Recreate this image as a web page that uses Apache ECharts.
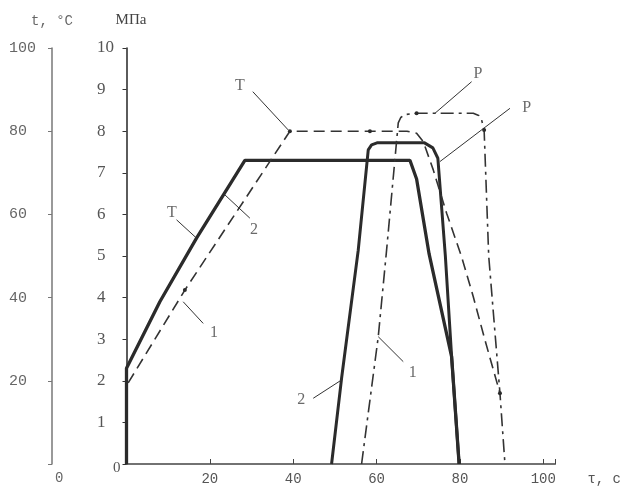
<!DOCTYPE html>
<html><head><meta charset="utf-8">
<script src="https://cdn.jsdelivr.net/npm/echarts@6/dist/echarts.min.js"></script>
<style>html,body{margin:0;padding:0;background:#fff}#c{width:624px;height:492px}</style>
</head><body><div id="c"></div>
<script>
// ---- Data (τ in s, pressure in МПа, temperature in °C) ----
const tauTicks = [0, 20, 40, 60, 80, 100];
const pressTicks = [0, 1, 2, 3, 4, 5, 6, 7, 8, 9, 10];
const tempTicks = [0, 20, 40, 60, 80, 100];

// Curve 2 (solid): temperature T
const temp2 = [[0,0],[0,23],[8,39],[16.8,54.3],[28.4,73],[68,73],[69.6,68.5],[72.6,50.5],[78,25.8],[79.8,0]];
// Curve 2 (solid): pressure P
const press2 = [[49.2,0],[51.6,2.06],[55.6,5.14],[58,7.55],[58.8,7.67],[60.1,7.72],[71.5,7.72],[73.5,7.6],[74.7,7.35],[76.5,5.0],[78,2.58],[79.8,0]];
// Curve 1 (dashed): temperature T
const temp1 = [[0.4,19.5],[14,41.8],[39.2,80],[58.4,80],[67.3,80],[69.6,79.5],[71.2,77.5],[73.6,70.7],[76.8,60.3],[80.4,49.8],[83.2,40.2],[86,29.8],[89.6,17]];
const temp1Dots = [1, 2, 3, 12];
// Curve 1 (dashed): pressure P
const press1 = [[56.4,0],[60.4,3.06],[62.4,5.14],[65.2,8.2],[65.8,8.33],[66.8,8.4],[69.6,8.43],[83.2,8.43],[84.5,8.38],[85.2,8.27],[85.8,8.03],[86.9,5.0],[89.6,1.7],[90.8,0]];
const press1Dots = [6, 10];

// Callout leaders (τ, МПа) and their texts
const leaders = [
  [[30.3,8.95],[38.8,8.03]],
  [[82.8,9.19],[74.0,8.43]],
  [[92.0,8.55],[75.2,7.27]],
  [[12.0,5.87],[16.8,5.43]],
  [[23.6,6.47],[29.6,5.91]],
  [[13.6,3.90],[18.4,3.38]],
  [[60.4,3.06],[66.4,2.46]],
  [[44.8,1.58],[51.6,2.02]]
];
const calloutText = ['T', 'P', 'P', 'T', '2', '1', '1', '2'];
const calloutPos = [[27.2,9.09],[84.3,9.38],[96.0,8.56],[10.9,6.03],[30.6,5.63],[21.0,3.15],[68.7,2.19],[41.9,1.54]];

// ---- Chart ----
const ink = '#2b2b2b';
function pts(arr, dots) {
  return arr.map((p, i) => (dots && dots.indexOf(i) >= 0)
    ? { value: p, symbol: 'circle', symbolSize: 4 }
    : { value: p });
}
const series = [
  { type: 'line', name: 'T2', yAxisIndex: 1, data: pts(temp2), symbol: 'none',
    lineStyle: { color: ink, width: 3.3 } },
  { type: 'line', name: 'P2', yAxisIndex: 0, data: pts(press2), symbol: 'none',
    lineStyle: { color: ink, width: 3 } },
  { type: 'line', name: 'T1', yAxisIndex: 1, data: pts(temp1, temp1Dots), symbol: 'none',
    showSymbol: true, showAllSymbol: true, itemStyle: { color: ink },
    lineStyle: { color: '#333', width: 1.6, type: [11, 6] } },
  { type: 'line', name: 'P1', yAxisIndex: 0, data: pts(press1, press1Dots), symbol: 'none',
    showSymbol: true, showAllSymbol: true, itemStyle: { color: ink },
    lineStyle: { color: '#333', width: 1.6, type: [13, 5, 3, 5] } }
];
leaders.forEach(seg => series.push({
  type: 'line', yAxisIndex: 0, data: seg, symbol: 'none', silent: true,
  lineStyle: { color: '#333', width: 1 }
}));
series.push({
  type: 'scatter', yAxisIndex: 0, symbol: 'circle', symbolSize: 1,
  itemStyle: { color: 'rgba(0,0,0,0)' },
  data: calloutPos.map((p, i) => ({ value: p, name: calloutText[i] })),
  label: { show: true, position: 'inside', formatter: p => p.name,
    fontFamily: 'Liberation Serif', fontSize: 16, color: '#444' }
});

const option = {
  animation: false,
  backgroundColor: '#fff',
  grid: { left: 126.5, right: 68.4, top: 48, bottom: 28 },
  xAxis: {
    type: 'value', min: 0, max: 102.9, interval: 20,
    splitLine: { show: false },
    axisLine: { lineStyle: { color: '#444', width: 1.5 } },
    axisTick: { show: true, inside: true, length: 5, lineStyle: { color: '#444' } },
    axisLabel: {
      formatter: v => (v > 0 && tauTicks.indexOf(v) >= 0) ? String(v) : '',
      fontFamily: 'Liberation Mono', fontSize: 14, color: '#555', margin: 8
    },
    name: 'τ, с', nameLocation: 'end', nameGap: 32,
    nameTextStyle: { fontFamily: 'Liberation Mono', fontSize: 14, color: '#555',
      verticalAlign: 'top', padding: [8, 0, 0, 0] }
  },
  yAxis: [
    {
      type: 'value', position: 'left', min: 0, max: 10, interval: 1,
      splitLine: { show: false },
      axisLine: { show: true, lineStyle: { color: '#333', width: 1.6 } },
      axisTick: { show: true, length: 4, lineStyle: { color: '#333' } },
      axisLabel: {
        align: 'left', margin: 29.5, fontFamily: 'Liberation Serif', fontSize: 17, color: '#555',
        formatter: v => pressTicks.indexOf(v) < 0 ? '' : (v === 0 ? '{z|0}' : String(v)),
        rich: { z: { padding: [8, 0, 0, 16], fontFamily: 'Liberation Serif', fontSize: 15, color: '#555' } }
      },
      name: 'МПа', nameLocation: 'end', nameGap: 20,
      nameTextStyle: { fontFamily: 'Liberation Serif', fontSize: 15, color: '#444', padding: [0, 0, 0, 9] }
    },
    {
      type: 'value', position: 'left', offset: 74.5, min: 0, max: 100, interval: 20,
      splitLine: { show: false },
      axisLine: { show: true, lineStyle: { color: '#777', width: 1.5 } },
      axisTick: { show: true, length: 4, lineStyle: { color: '#777' } },
      axisLabel: {
        align: 'left', margin: 43, fontFamily: 'Liberation Mono', fontSize: 15, color: '#666',
        formatter: v => tempTicks.indexOf(v) < 0 ? '' : (v === 0 ? '{z|0}' : String(v)),
        rich: { z: { padding: [28, 0, 0, 46], fontFamily: 'Liberation Mono', fontSize: 14, color: '#666' } }
      },
      name: 't, °C', nameLocation: 'end', nameGap: 20,
      nameTextStyle: { fontFamily: 'Liberation Mono', fontSize: 14, color: '#666' }
    }
  ],
  series: series
};
const chart = echarts.init(document.getElementById('c'));
chart.setOption(option);
</script>
</body></html>
